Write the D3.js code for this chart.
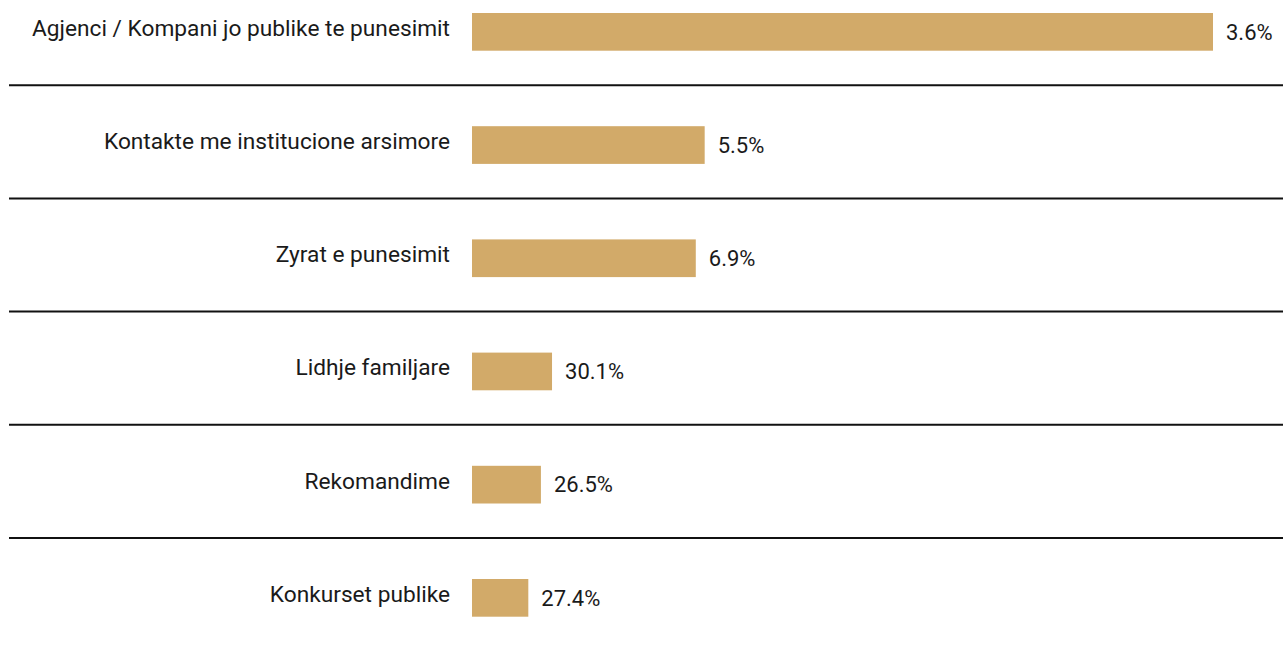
<!DOCTYPE html>
<html>
<head>
<meta charset="utf-8">
<script src="https://cdn.jsdelivr.net/npm/d3@7"></script>
<style>
  html, body { margin: 0; padding: 0; background: #fff; }
  svg { display: block; }
</style>
</head>
<body>
<svg id="chart" width="1283" height="646"></svg>
<script>
// Data
const categories = [
  "Agjenci / Kompani jo publike te punesimit",
  "Kontakte me institucione arsimore",
  "Zyrat e punesimit",
  "Lidhje familjare",
  "Rekomandime",
  "Konkurset publike"
];
// Relative bar lengths (as drawn in the reference)
const barValues = [100, 31.4, 30.2, 10.8, 9.3, 7.6];
// Value labels printed next to each bar
const valueLabels = ["3.6%", "5.5%", "6.9%", "30.1%", "26.5%", "27.4%"];

const W = 1283, H = 646;
const svg = d3.select("#chart");

const x = d3.scaleLinear().domain([0, 100]).range([472, 1213]);
const y = d3.scaleBand().domain(categories).range([13, 616.7]).paddingInner(0.667).paddingOuter(0);

const rows = categories.map((c, i) => ({ cat: c, v: barValues[i], label: valueLabels[i], i }));

// separator lines
svg.append("g").selectAll("line")
  .data(rows.slice(0, rows.length - 1))
  .join("line")
  .attr("x1", 9).attr("x2", W)
  .attr("y1", d => y(d.cat) + y.bandwidth() + 34.5)
  .attr("y2", d => y(d.cat) + y.bandwidth() + 34.5)
  .attr("stroke", "#111").attr("stroke-width", 2);

// bars
svg.append("g").selectAll("rect")
  .data(rows)
  .join("rect")
  .attr("x", x(0))
  .attr("y", d => y(d.cat))
  .attr("width", d => x(d.v) - x(0))
  .attr("height", y.bandwidth())
  .attr("fill", "#d2aa69");

// category labels
svg.append("g").selectAll("text")
  .data(rows)
  .join("text")
  .attr("x", 450)
  .attr("y", d => y(d.cat) + y.bandwidth() / 2 + 4)
  .attr("text-anchor", "end")
  .attr("font-family", "Roboto, 'Noto Sans', sans-serif")
  .attr("font-size", 22.7)
  .attr("fill", "#1a1a1a")
  .text(d => d.cat);

// value labels
svg.append("g").selectAll("text")
  .data(rows)
  .join("text")
  .attr("x", d => x(d.v) + 13)
  .attr("y", d => y(d.cat) + y.bandwidth() / 2 + 7.8)
  .attr("text-anchor", "start")
  .attr("font-family", "Roboto, 'Noto Sans', sans-serif")
  .attr("font-size", 22)
  .attr("fill", "#1a1a1a")
  .text(d => d.label);
</script>
</body>
</html>
